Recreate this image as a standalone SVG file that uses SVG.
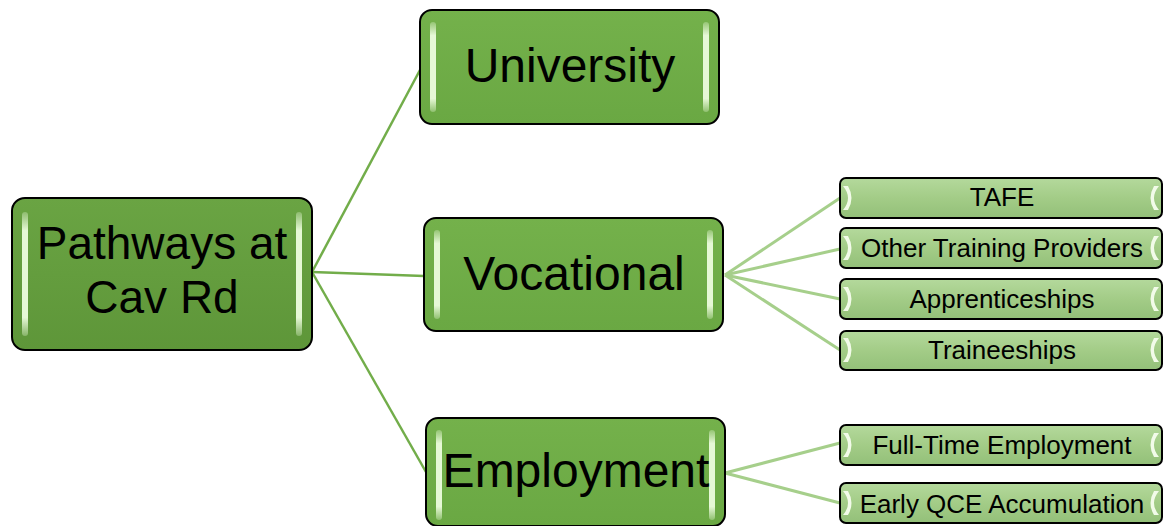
<svg xmlns="http://www.w3.org/2000/svg" width="1163" height="526" viewBox="0 0 1163 526">
<defs>
<linearGradient id="gMain" x1="0" y1="0" x2="0" y2="1">
<stop offset="0" stop-color="#74b14b"/>
<stop offset="1" stop-color="#6aa843"/>
</linearGradient>
<linearGradient id="gRoot" x1="0" y1="0" x2="0" y2="1">
<stop offset="0" stop-color="#6aa443"/>
<stop offset="1" stop-color="#5e9639"/>
</linearGradient>
<linearGradient id="gSub" x1="0" y1="0" x2="0" y2="1">
<stop offset="0" stop-color="#b4d99c"/>
<stop offset="0.5" stop-color="#a3cc87"/>
<stop offset="1" stop-color="#93c079"/>
</linearGradient>
<linearGradient id="gHi" x1="0" y1="0" x2="0" y2="1">
<stop offset="0" stop-color="#e6f8d6" stop-opacity="0.3"/>
<stop offset="0.15" stop-color="#e6f8d6"/>
<stop offset="0.85" stop-color="#e6f8d6"/>
<stop offset="1" stop-color="#e6f8d6" stop-opacity="0.3"/>
</linearGradient>
</defs>
<style>
.main{fill:url(#gMain);stroke:#000;stroke-width:2}
.root{fill:url(#gRoot);stroke:#000;stroke-width:2}
.sub{fill:url(#gSub);stroke:#000;stroke-width:2}
.hi{fill:url(#gHi)}
.shi{fill:#f2fbe9}
.big{font-family:"Liberation Sans",Arial,sans-serif;fill:#000;text-anchor:middle}
.sm{font-family:"Liberation Sans",Arial,sans-serif;font-size:26px;fill:#000;text-anchor:middle}
.c1{stroke:#72ad4a;stroke-width:2.5;fill:none}
.c2{stroke:#a6cf8b;stroke-width:3;fill:none}
</style>
<g id="connectors">
<line class="c1" x1="312" y1="272" x2="420" y2="70"/>
<line class="c1" x1="312" y1="272" x2="424" y2="276"/>
<line class="c1" x1="312" y1="272" x2="426" y2="472"/>
<line class="c2" x1="725" y1="275" x2="840" y2="198"/>
<line class="c2" x1="725" y1="275" x2="840" y2="249"/>
<line class="c2" x1="725" y1="275" x2="840" y2="299"/>
<line class="c2" x1="725" y1="275" x2="840" y2="350"/>
<line class="c2" x1="725" y1="473" x2="840" y2="443"/>
<line class="c2" x1="725" y1="473" x2="840" y2="503"/>
</g>
<g id="root">
<rect class="root" x="12" y="198" width="300" height="152" rx="13"/>
<rect class="hi" x="22" y="212" width="6" height="124" rx="3"/>
<rect class="hi" x="296" y="212" width="6" height="124" rx="3"/>
<text class="big" x="162" y="259" font-size="46">Pathways at</text>
<text class="big" x="162" y="313" font-size="46">Cav Rd</text>
</g>
<g id="university">
<rect class="main" x="420" y="10" width="299" height="114" rx="12"/>
<rect class="hi" x="430" y="22" width="6" height="90" rx="3"/>
<rect class="hi" x="703" y="22" width="6" height="90" rx="3"/>
<text class="big" x="570" y="82" font-size="48">University</text>
</g>
<g id="vocational">
<rect class="main" x="424" y="218" width="299" height="113" rx="12"/>
<rect class="hi" x="434" y="230" width="6" height="89" rx="3"/>
<rect class="hi" x="707" y="230" width="6" height="89" rx="3"/>
<text class="big" x="574" y="290" font-size="48">Vocational</text>
</g>
<g id="employment">
<rect class="main" x="426" y="418" width="299" height="108" rx="12"/>
<rect class="hi" x="436" y="430" width="6" height="90" rx="3"/>
<rect class="hi" x="709" y="430" width="6" height="90" rx="3"/>
<text class="big" x="576" y="487" font-size="48">Employment</text>
</g>
<g id="tafe">
<rect class="sub" x="840" y="178" width="322" height="40" rx="6"/>
<path class="shi" d="M843 186 Q853 198 843 210 L848 210 Q855 198 848 186 Z"/>
<path class="shi" d="M1159 186 Q1149 198 1159 210 L1154 210 Q1147 198 1154 186 Z"/>
<text class="sm" x="1002" y="206">TAFE</text>
</g>
<g id="other">
<rect class="sub" x="840" y="228" width="322" height="40" rx="6"/>
<path class="shi" d="M843 236 Q853 248 843 260 L848 260 Q855 248 848 236 Z"/>
<path class="shi" d="M1159 236 Q1149 248 1159 260 L1154 260 Q1147 248 1154 236 Z"/>
<text class="sm" x="1002" y="257">Other Training Providers</text>
</g>
<g id="apprenticeships">
<rect class="sub" x="840" y="279" width="322" height="40" rx="6"/>
<path class="shi" d="M843 287 Q853 299 843 311 L848 311 Q855 299 848 287 Z"/>
<path class="shi" d="M1159 287 Q1149 299 1159 311 L1154 311 Q1147 299 1154 287 Z"/>
<text class="sm" x="1002" y="308">Apprenticeships</text>
</g>
<g id="traineeships">
<rect class="sub" x="840" y="331" width="322" height="39" rx="6"/>
<path class="shi" d="M843 338 Q853 350 843 362 L848 362 Q855 350 848 338 Z"/>
<path class="shi" d="M1159 338 Q1149 350 1159 362 L1154 362 Q1147 350 1154 338 Z"/>
<text class="sm" x="1002" y="359">Traineeships</text>
</g>
<g id="fulltime">
<rect class="sub" x="840" y="425" width="322" height="40" rx="6"/>
<path class="shi" d="M843 433 Q853 445 843 457 L848 457 Q855 445 848 433 Z"/>
<path class="shi" d="M1159 433 Q1149 445 1159 457 L1154 457 Q1147 445 1154 433 Z"/>
<text class="sm" x="1002" y="454">Full-Time Employment</text>
</g>
<g id="earlyqce">
<rect class="sub" x="840" y="483" width="322" height="40" rx="6"/>
<path class="shi" d="M843 491 Q853 503 843 515 L848 515 Q855 503 848 491 Z"/>
<path class="shi" d="M1159 491 Q1149 503 1159 515 L1154 515 Q1147 503 1154 491 Z"/>
<text class="sm" x="1002" y="513">Early QCE Accumulation</text>
</g>
</svg>
